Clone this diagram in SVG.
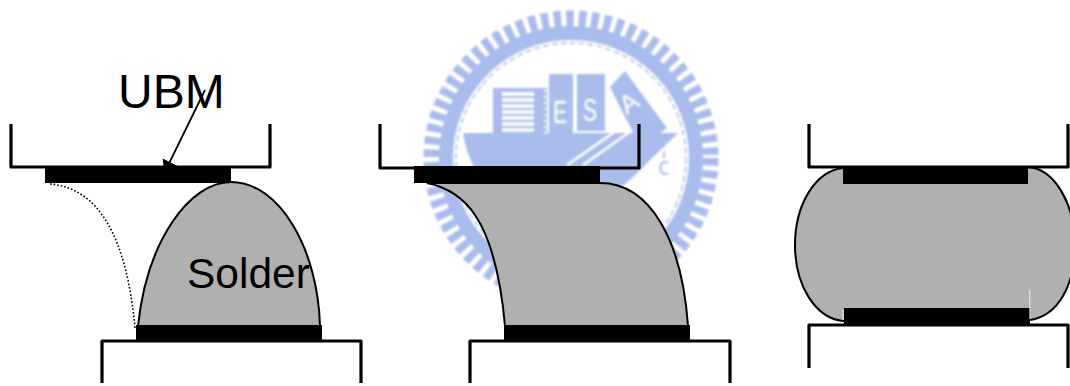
<svg xmlns="http://www.w3.org/2000/svg" width="1070" height="386" viewBox="0 0 1070 386">
<defs>
<filter id="soft" x="-5%" y="-5%" width="110%" height="110%"><feGaussianBlur stdDeviation="1"/></filter>
<marker id="head" markerWidth="14" markerHeight="18" refX="12" refY="8" orient="auto" markerUnits="userSpaceOnUse"><path d="M0,0 L12,8 L0,16 Z" fill="#000"/></marker>
</defs>
<style>
.frame{fill:none;stroke:#000;stroke-width:3.2;stroke-linejoin:round}
.pad{fill:#000}
.solder{fill:#b0b0b0;stroke:#000;stroke-width:2}
.label{font-family:"Liberation Sans",Arial,sans-serif;fill:#000}
.wm{fill:#a9bcec}
.wmtext{font-family:"Liberation Sans",Arial,sans-serif;fill:#fff}
</style>
<rect width="1070" height="386" fill="#fff"/>
<g id="watermark" filter="url(#soft)">
<circle cx="571" cy="158" r="139" fill="none" stroke="#a9bcec" stroke-width="17" stroke-dasharray="7.5 5"/>
<circle cx="571" cy="158" r="125" fill="none" stroke="#a9bcec" stroke-width="14"/>
<circle cx="571" cy="158" r="115" fill="none" stroke="#a9bcec" stroke-width="1.5" stroke-dasharray="6 3"/>
<path class="wm" d="M463,133 L678,133 L650,160 Q625,188 600,200 L500,200 Q468,170 463,133 Z"/>
<rect class="wm" x="493" y="88" width="54" height="46"/>
<path d="M502,94 H534 M502,100 H534 M502,106 H534 M502,112 H534 M502,118 H534 M502,124 H534 M502,130 H534" stroke="#fff" stroke-width="3.5" fill="none"/>
<path d="M545,90 V134" stroke="#fff" stroke-width="2" stroke-dasharray="2 4" fill="none"/>
<rect class="wm" x="549" y="74" width="24" height="60"/>
<rect class="wm" x="577" y="74" width="28" height="57"/>
<path class="wm" d="M625,71 L667,128 L640,147 L610,87 Z"/>
<text class="wmtext" x="553" y="123" font-size="32" textLength="14" lengthAdjust="spacingAndGlyphs">E</text>
<text class="wmtext" x="583" y="121" font-size="32" textLength="14" lengthAdjust="spacingAndGlyphs">S</text>
<text class="wmtext" x="0" y="0" font-size="26" transform="translate(627,115) rotate(-35)">A</text>
<path d="M567,165 L626,124 L631,131 L583,165" fill="none" stroke="#fff" stroke-width="2.5"/>
<path d="M664,152 V158 M668,163 A5,6 0 1 0 668,173" fill="none" stroke="#a9bcec" stroke-width="2"/>
</g>
<g id="connectors">
<path d="M205,90 L164.5,172.7" fill="none" stroke="#000" stroke-width="1.8" marker-end="url(#head)"/>
<path d="M50,184 C100,188 127,240 135,328" fill="none" stroke="#000" stroke-width="1.6" stroke-dasharray="1.6 2"/>
</g>
<g id="bump-1">
<path class="solder" d="M138,326 C147,240 190,182 231,182 C280,182 318,250 320,326 Z"/>
<path class="frame" d="M11,124 V167 H270 V124"/>
<rect class="pad" x="45" y="166" width="186" height="17"/>
<path class="frame" d="M102,383 V341 H361 V383"/>
<rect class="pad" x="136" y="325" width="186" height="16"/>
<text class="label" x="118" y="108" font-size="48">UBM</text>
<text class="label" x="187" y="288" font-size="42.5">Solder</text>
</g>
<g id="bump-2">
<path class="solder" d="M427,183 C462,190 495,215 505,326 L688,326 C682,240 650,183 600,183 Z"/>
<path class="frame" d="M380,124 V168 H639 V124"/>
<rect class="pad" x="414" y="166" width="186" height="17"/>
<path class="frame" d="M470,383 V341 H730 V383"/>
<rect class="pad" x="504" y="325" width="186" height="16"/>
</g>
<g id="bump-3">
<path class="solder" d="M843,168 C815,171 795,205 795,245 C795,285 815,318 843,321 L1030,320 C1058,316 1075,285 1075,245 C1075,205 1055,168 1027,167 Z"/>
<path class="frame" d="M809,124 V167 H1068 V124"/>
<rect class="pad" x="843" y="167" width="185" height="17"/>
<path class="frame" d="M809,368 V325 H1068 V368"/>
<rect class="pad" x="844" y="308" width="186" height="17"/>
<path d="M1029.8,290 V319 M843,310 V320" fill="none" stroke="#fff" stroke-width="0.8"/>
</g>
</svg>
